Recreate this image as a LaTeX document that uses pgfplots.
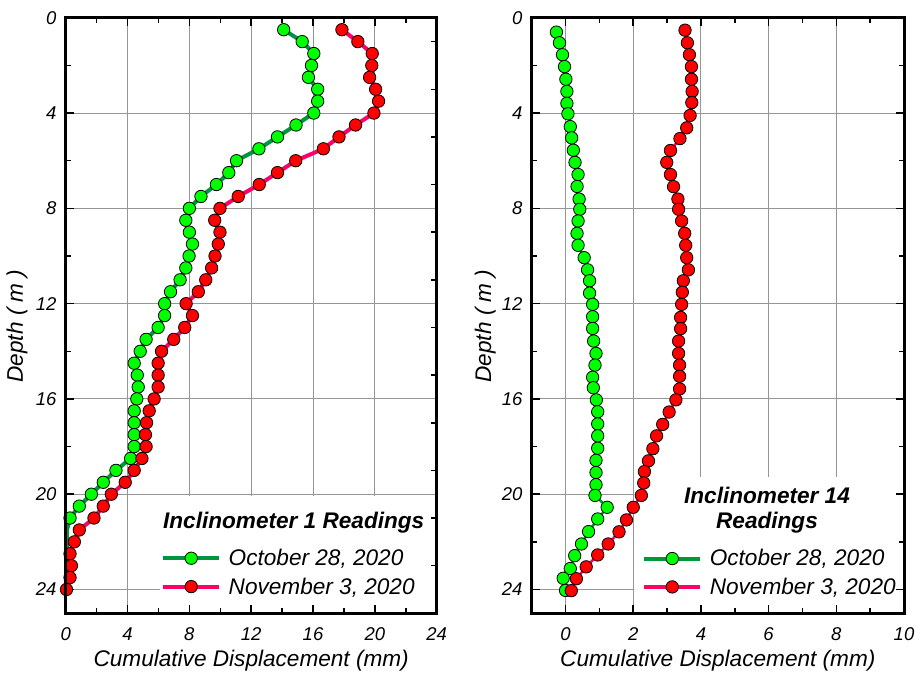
\documentclass[border=0pt]{standalone}
\usepackage{fontspec}
\setmainfont{Liberation Sans}
\usepackage{pgfplots}
\pgfplotsset{compat=1.18}

\definecolor{lineGreen}{RGB}{0,150,60}
\definecolor{markGreen}{RGB}{0,255,0}
\definecolor{linePink}{RGB}{255,0,102}
\definecolor{markRed}{RGB}{255,0,0}
\definecolor{gridgray}{RGB}{150,150,150}

\pgfplotsset{
  layers/legbg/.define layer set={
    axis background,axis grid,legendbg,axis ticks,axis lines,axis tick labels,pre main,main,axis descriptions,axis foreground
  }{
    grid style={/pgfplots/on layer=axis grid},
    tick style={/pgfplots/on layer=axis ticks},
    axis line style={/pgfplots/on layer=axis lines},
    label style={/pgfplots/on layer=axis descriptions},
    legend style={/pgfplots/on layer=axis descriptions},
    title style={/pgfplots/on layer=axis descriptions},
    ticklabel style={/pgfplots/on layer=axis tick labels},
  },
  incl/.style={
    set layers=legbg,
    scale only axis, height=595.5pt,
    y dir=reverse, ymin=0, ymax=25,
    ytick={0,4,...,24}, minor y tick num=1,
    tick align=inside,
    major tick length=8pt, minor tick length=5pt,
    tick style={line width=1.5pt, black},
    axis line style={line width=3pt},
    grid=major, major grid style={line width=1pt, gridgray},
    /pgf/number format/assume math mode=true,
    ticklabel style={font=\fontsize{18.5}{20}\selectfont\itshape},
    xticklabel style={anchor=base, yshift=-26.7pt},
    yticklabel style={anchor=east, inner sep=0pt, xshift=-9pt},
    label style={font=\fontsize{22.6}{24}\selectfont\itshape},
    xlabel={Cumulative Displacement (mm)},
    ylabel={Depth ( m )},
    xlabel style={at={(axis description cs:0.5,-0.0897)}, anchor=base},
    legend cell align=left,
    legend image code/.code={\draw[mark repeat=2,mark phase=2,##1,line width=4pt] plot coordinates {(0pt,0pt) (28pt,0pt) (56pt,0pt)};},
  },
  legsty/.style={legend style={draw=none, fill=none, inner sep=0pt, outer sep=0pt, anchor=north west,
      font=\fontsize{22.6}{24}\selectfont\itshape, row sep=10.5pt, column sep=7.5pt, nodes={inner sep=0pt}}},
  greenser/.style={color=lineGreen, line width=#1, mark=*, mark size=6.2pt,
      mark options={fill=markGreen, draw=black, line width=0.8pt, solid}},
  redser/.style={color=linePink, line width=#1, mark=*, mark size=6.2pt,
      mark options={fill=markRed, draw=black, line width=0.8pt, solid}},
}

\begin{document}
\begin{tikzpicture}

% ---------------- Left: Inclinometer 1 ----------------
\begin{axis}[incl, at={(0pt,0pt)}, anchor=south west, width=371pt,
  xmin=0, xmax=24, xtick={0,4,...,24}, minor x tick num=1,
  ytick pos=left,
  ylabel style={at={(axis description cs:-0.131,0.4825)}, anchor=center},
  legsty, legend style={at={(axis description cs:0.2575,0.1075)}},
]
\addplot[draw=none, fill=white, on layer=legendbg, forget plot]
  coordinates {(6.1,20.08) (24,20.08) (24,25) (6.1,25) (6.1,20.08)};
\addplot[greenser=4pt] coordinates {
(14.1,0.5) (15.3,1.0) (16.05,1.5) (15.9,2.0) (15.7,2.5) (16.3,3.0) (16.3,3.5) (16.05,4.0)
(14.9,4.5) (13.7,5.0) (12.5,5.5) (11.05,6.0) (10.55,6.5) (9.75,7.0) (8.75,7.5) (8.0,8.0)
(7.77,8.5) (8.0,9.0) (8.2,9.5) (7.98,10.0) (7.77,10.5) (7.4,11.0) (6.78,11.5) (6.4,12.0)
(6.4,12.5) (5.98,13.0) (5.2,13.5) (4.82,14.0) (4.43,14.5) (4.63,15.0) (4.69,15.5) (4.6,16.0)
(4.43,16.5) (4.43,17.0) (4.43,17.5) (4.43,18.0) (4.2,18.5) (3.25,19.0) (2.43,19.5) (1.66,20.0)
(0.88,20.5) (0.28,21.0)
};
\addlegendentry{October 28, 2020}
\addplot[color=lineGreen, line width=4pt, forget plot] coordinates {
(0.28,21.0) (0.08,21.5) (0.07,22.0) (0.07,22.5) (0.07,23.0) (0.05,23.5) (0.03,24.0)
};
\addplot[redser=4pt] coordinates {
(17.87,0.5) (18.9,1.0) (19.83,1.5) (19.8,2.0) (19.66,2.5) (20.05,3.0) (20.24,3.5) (19.94,4.0)
(18.75,4.5) (17.68,5.0) (16.67,5.5) (14.88,6.0) (13.7,6.5) (12.52,7.0) (11.16,7.5) (9.98,8.0)
(9.64,8.5) (9.98,9.0) (9.87,9.5) (9.66,10.0) (9.44,10.5) (9.06,11.0) (8.58,11.5) (7.79,12.0)
(8.2,12.5) (7.7,13.0) (6.99,13.5) (6.2,14.0) (5.98,14.5) (5.98,15.0) (5.98,15.5) (5.72,16.0)
(5.4,16.5) (5.23,17.0) (5.16,17.5) (5.2,18.0) (4.93,18.5) (4.43,19.0) (3.85,19.5) (2.95,20.0)
(2.43,20.5) (1.83,21.0) (0.88,21.5) (0.56,22.0) (0.28,22.5) (0.37,23.0) (0.28,23.5) (0.05,24.0)
};
\addlegendentry{November 3, 2020}
\node[anchor=base west, inner sep=0pt, font=\fontsize{22.6}{24}\selectfont\bfseries\itshape]
  at (axis description cs:0.262,0.1427) {Inclinometer 1 Readings};
\end{axis}

% right-side odd ticks of left plot
\begin{axis}[at={(0pt,0pt)}, anchor=south west, scale only axis, width=371pt, height=595.5pt,
  xmin=0, xmax=24, ymin=0, ymax=25, y dir=reverse,
  xtick=\empty, ytick={1,3,...,25}, yticklabels={}, ytick pos=right,
  tick align=inside, major tick length=6pt, tick style={line width=1.5pt, black},
  axis line style={line width=3pt}]
\addplot[draw=none, forget plot] coordinates {(0,0) (24,25)};
\end{axis}

% ---------------- Right: Inclinometer 14 ----------------
\begin{axis}[incl, at={(466pt,0pt)}, anchor=south west, width=372.3pt,
  xmin=-1, xmax=10, xtick={0,2,...,10}, minor x tick num=1,
  ylabel style={at={(axis description cs:-0.125,0.4825)}, anchor=center},
  legsty, legend style={at={(axis description cs:0.297,0.107)}},
]
\addplot[draw=none, fill=white, on layer=legendbg, forget plot]
  coordinates {(2.03,19.28) (10,19.28) (10,25) (2.03,25) (2.03,19.28)};
\addplot[greenser=2.5pt] coordinates {
(-0.27,0.6) (-0.18,1.05) (-0.09,1.55) (-0.03,2.05) (0.01,2.58) (0.04,3.09) (0.04,3.59) (0.07,4.03)
(0.14,4.57) (0.18,5.04) (0.23,5.56) (0.28,6.07) (0.37,6.58) (0.34,7.08) (0.40,7.61) (0.42,8.04)
(0.37,8.53) (0.34,9.05) (0.37,9.55) (0.55,10.07) (0.65,10.58) (0.71,11.04) (0.71,11.56) (0.80,12.03)
(0.80,12.55) (0.80,13.04) (0.83,13.57) (0.90,14.09) (0.87,14.58) (0.80,15.09) (0.82,15.53) (0.91,16.04)
(0.95,16.54) (0.95,17.05) (0.95,17.55) (0.95,18.07) (0.90,18.58) (0.90,19.09) (0.90,19.6) (0.87,20.05)
(1.23,20.55) (0.95,21.04) (0.68,21.57) (0.47,22.09) (0.27,22.58) (0.14,23.12) (-0.07,23.53) (0.0,24.04)
};
\addlegendentry{October 28, 2020}
\addplot[redser=2.5pt] coordinates {
(3.53,0.52) (3.60,1.05) (3.66,1.55) (3.72,2.05) (3.72,2.58) (3.74,3.09) (3.73,3.56) (3.68,4.1)
(3.58,4.62) (3.38,5.07) (3.10,5.57) (2.99,6.07) (3.10,6.58) (3.19,7.09) (3.32,7.61) (3.34,8.04)
(3.43,8.53) (3.52,9.05) (3.55,9.55) (3.58,10.07) (3.63,10.58) (3.48,11.04) (3.45,11.52) (3.43,12.03)
(3.40,12.58) (3.40,13.05) (3.34,13.57) (3.34,14.09) (3.37,14.58) (3.37,15.05) (3.37,15.58) (3.26,16.04)
(3.06,16.55) (2.87,17.07) (2.69,17.55) (2.58,18.09) (2.45,18.6) (2.33,19.05) (2.31,19.53) (2.24,20.05)
(2.00,20.55) (1.80,21.08) (1.58,21.58) (1.26,22.09) (0.95,22.55) (0.61,23.05) (0.32,23.55) (0.17,24.05)
};
\addlegendentry{November 3, 2020}
\node[anchor=north, align=center, inner sep=0pt, font=\fontsize{22.6}{25.3}\selectfont\bfseries\itshape]
  at (axis description cs:0.632,0.2123) {Inclinometer 14\\Readings};
\end{axis}

\pgfresetboundingbox
\path[use as bounding box] (-65.7pt,-59.7pt) rectangle (857.3pt,613.3pt);
\end{tikzpicture}
\end{document}
